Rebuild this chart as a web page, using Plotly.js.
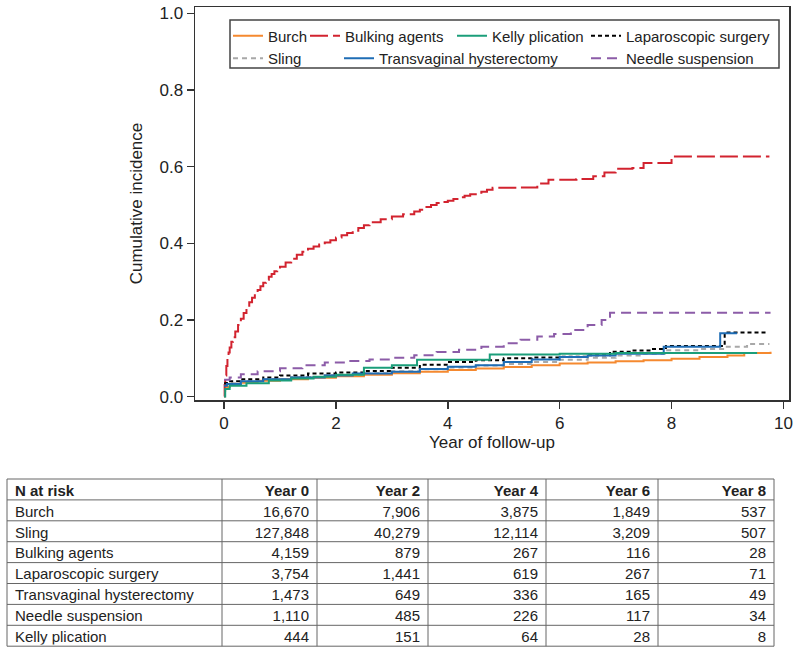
<!DOCTYPE html>
<html>
<head>
<meta charset="utf-8">
<script src="https://cdn.plot.ly/plotly-3.0.1.min.js"></script>
<style>html,body{margin:0;padding:0;background:#fff;}#chart{width:800px;height:653px;}</style>
</head>
<body>
<div id="chart"></div>
<script>
// ---------- Data ----------
const seriesNames = ["Burch", "Sling", "Bulking agents", "Laparoscopic surgery", "Transvaginal hysterectomy", "Needle suspension", "Kelly plication"];

const burchX = [0, 0.02, 0.1, 0.3, 0.6, 1.0, 1.5, 2.0, 2.5, 3.0, 3.5, 4.0, 4.5, 5.0, 5.5, 6.0, 6.5, 7.0, 7.5, 8.0, 8.5, 9.0, 9.3, 9.77];
const burchY = [0.015, 0.025, 0.03, 0.036, 0.041, 0.045, 0.049, 0.053, 0.057, 0.061, 0.065, 0.069, 0.073, 0.077, 0.082, 0.086, 0.089, 0.092, 0.095, 0.099, 0.103, 0.107, 0.114, 0.117];

const slingX = [0, 0.05, 0.3, 0.7, 1.2, 1.8, 2.5, 3.0, 3.5, 4.0, 4.5, 5.0, 5.5, 6.0, 6.5, 7.0, 7.5, 7.9, 8.5, 8.95, 9.35, 9.75];
const slingY = [0.03, 0.035, 0.04, 0.046, 0.051, 0.056, 0.061, 0.066, 0.071, 0.076, 0.081, 0.085, 0.09, 0.096, 0.101, 0.107, 0.112, 0.121, 0.124, 0.13, 0.137, 0.137];

const bulkingX = [0, 0.01, 0.02, 0.04, 0.06, 0.08, 0.1, 0.13, 0.16, 0.2, 0.25, 0.3, 0.35, 0.4, 0.45, 0.5, 0.55, 0.6, 0.65, 0.7, 0.75, 0.8, 0.85, 0.9, 0.95, 1.0, 1.1, 1.2, 1.3, 1.4, 1.5, 1.6, 1.7, 1.8, 1.9, 2.0, 2.1, 2.2, 2.3, 2.4, 2.5, 2.6, 2.8, 3.0, 3.2, 3.4, 3.5, 3.6, 3.7, 3.8, 3.9, 4.0, 4.1, 4.2, 4.3, 4.4, 4.5, 4.6, 4.7, 4.8, 5.3, 5.6, 5.8, 6.3, 6.6, 6.8, 7.0, 7.3, 7.5, 8.0, 9.75];
const bulkingY = [0.0, 0.03, 0.055, 0.08, 0.1, 0.115, 0.128, 0.143, 0.155, 0.17, 0.187, 0.203, 0.218, 0.232, 0.246, 0.258, 0.268, 0.278, 0.288, 0.297, 0.305, 0.313, 0.32, 0.327, 0.333, 0.339, 0.35, 0.36, 0.37, 0.378, 0.386, 0.392, 0.397, 0.402, 0.408, 0.415, 0.421, 0.427, 0.433, 0.44, 0.447, 0.455, 0.463, 0.47, 0.476, 0.483, 0.488, 0.495, 0.5, 0.505, 0.508, 0.511, 0.516, 0.52, 0.524, 0.528, 0.532, 0.535, 0.54, 0.545, 0.546, 0.556, 0.566, 0.568, 0.575, 0.585, 0.595, 0.597, 0.61, 0.627, 0.627];

const laparoX = [0, 0.05, 0.3, 0.7, 1.0, 1.5, 2.0, 2.5, 3.0, 3.5, 4.0, 4.5, 5.0, 5.5, 6.0, 6.5, 6.9, 7.3, 7.65, 7.9, 8.95, 9.7];
const laparoY = [0.035, 0.04, 0.045, 0.05, 0.055, 0.06, 0.063, 0.067, 0.075, 0.083, 0.09, 0.095, 0.1, 0.102, 0.104, 0.108, 0.117, 0.12, 0.124, 0.132, 0.167, 0.167];

const tvhX = [0, 0.05, 0.3, 0.7, 1.2, 1.8, 2.3, 3.0, 3.5, 4.0, 4.5, 5.0, 5.5, 6.0, 6.5, 7.0, 7.86, 8.87, 9.17];
const tvhY = [0.028, 0.033, 0.04, 0.045, 0.05, 0.055, 0.06, 0.065, 0.072, 0.078, 0.082, 0.09, 0.097, 0.103, 0.107, 0.112, 0.13, 0.165, 0.165];

const needleX = [0, 0.1, 0.3, 0.6, 1.0, 1.4, 1.8, 2.2, 2.6, 3.0, 3.4, 3.8, 4.2, 4.6, 5.0, 5.3, 5.6, 5.9, 6.2, 6.5, 6.75, 6.9, 9.77];
const needleY = [0.044, 0.05, 0.058, 0.066, 0.074, 0.082, 0.089, 0.093, 0.097, 0.101, 0.108, 0.116, 0.122, 0.13, 0.139, 0.148, 0.157, 0.163, 0.174, 0.187, 0.2, 0.219, 0.219];

const kellyX = [0, 0.02, 0.1, 0.4, 0.8, 1.2, 1.6, 2.0, 2.5, 3.0, 3.45, 4.75, 6.0, 7.0, 9.53];
const kellyY = [0.0, 0.02, 0.028, 0.035, 0.042, 0.047, 0.052, 0.057, 0.075, 0.082, 0.096, 0.11, 0.112, 0.114, 0.114];

// N at risk table
const tableHeader = ["N at risk", "Year 0", "Year 2", "Year 4", "Year 6", "Year 8"];
const riskGroups = ["Burch", "Sling", "Bulking agents", "Laparoscopic surgery", "Transvaginal hysterectomy", "Needle suspension", "Kelly plication"];
const riskYear0 = [16670, 127848, 4159, 3754, 1473, 1110, 444];
const riskYear2 = [7906, 40279, 879, 1441, 649, 485, 151];
const riskYear4 = [3875, 12114, 267, 619, 336, 226, 64];
const riskYear6 = [1849, 3209, 116, 267, 165, 117, 28];
const riskYear8 = [537, 507, 28, 71, 49, 34, 8];

// ---------- Styling ----------
const FONT = "Liberation Sans, Arial, sans-serif";
const TXT = "#222222";
const W = 800, H = 653;
const px = v => v / W;
const py = v => 1 - v / H;

function km(x, y, name, color, dash, legend) {
  return {
    type: "scatter", mode: "lines", x: x, y: y, name: name,
    line: {shape: "hv", color: color, width: 2, dash: dash},
    legend: legend, hoverinfo: "skip"
  };
}

const traces = [
  km(burchX, burchY, "Burch", "#F5892F", "solid", "legend"),
  km(slingX, slingY, "Sling", "#A8A8A8", "5px,4px", "legend"),
  km(bulkingX, bulkingY, "Bulking agents", "#D2232F", "18px,5px", "legend2"),
  km(laparoX, laparoY, "Laparoscopic surgery", "#000000", "4px,3px", "legend5"),
  km(tvhX, tvhY, "Transvaginal hysterectomy", "#1F6DB5", "solid", "legend3"),
  km(needleX, needleY, "Needle suspension", "#8C5CA8", "10px,6px", "legend5"),
  km(kellyX, kellyY, "Kelly plication", "#1B9E7A", "solid", "legend4")
];

// Table geometry (pixels)
const tblLeft = 7, tblTop = 479, rowH = 20.9;
const colW = [215, 95, 111, 118, 112, 116];
const nRows = riskGroups.length + 1;
const tblRight = tblLeft + colW.reduce((a, b) => a + b, 0);
const tblBottom = tblTop + nRows * rowH;
const textLift = 2.5;

const fmt = v => v.toLocaleString("en-US");
const bodyFont = {family: FONT, size: 15, color: TXT};
const headFont = {family: FONT, size: 15, color: TXT, weight: "bold"};

traces.push({
  type: "table",
  domain: {x: [px(tblLeft), px(tblRight)], y: [py(tblBottom - textLift + 1), py(tblTop - textLift)]},
  columnwidth: colW,
  header: {
    values: tableHeader,
    align: ["left", "right", "right", "right", "right", "right"],
    font: headFont,
    height: rowH,
    line: {color: "rgba(0,0,0,0)", width: 0},
    fill: {color: "rgba(0,0,0,0)"}
  },
  cells: {
    values: [riskGroups, riskYear0.map(fmt), riskYear2.map(fmt), riskYear4.map(fmt), riskYear6.map(fmt), riskYear8.map(fmt)],
    align: ["left", "right", "right", "right", "right", "right"],
    font: bodyFont,
    height: rowH,
    line: {color: "rgba(0,0,0,0)", width: 0},
    fill: {color: "rgba(0,0,0,0)"}
  }
});

// grid lines of the table
const gridShapes = [];
const gridLine = {color: "#666666", width: 1};
for (let i = 0; i <= nRows; i++) {
  const yy = tblTop + i * rowH;
  gridShapes.push({type: "line", xref: "paper", yref: "paper", x0: px(tblLeft), x1: px(tblRight), y0: py(yy), y1: py(yy), line: gridLine});
}
let cx = tblLeft;
for (let j = 0; j <= colW.length; j++) {
  gridShapes.push({type: "line", xref: "paper", yref: "paper", x0: px(cx), x1: px(cx), y0: py(tblTop), y1: py(tblBottom), line: gridLine});
  if (j < colW.length) cx += colW[j];
}

function leg(xp, yp) {
  return {
    x: px(xp), y: py(yp), xanchor: "left", yanchor: "top",
    orientation: "v", bgcolor: "rgba(0,0,0,0)", borderwidth: 0,
    font: {family: FONT, size: 15, color: TXT}, tracegroupgap: 0,
    itemwidth: 30, traceorder: "normal"
  };
}

const layout = {
  width: W, height: H,
  margin: {l: 0, r: 0, t: 0, b: 0},
  paper_bgcolor: "#ffffff", plot_bgcolor: "#ffffff",
  font: {family: FONT, size: 17, color: TXT},
  showlegend: true,
  legend: leg(228, 19.5),
  legend2: leg(305, 19.5),
  legend3: leg(339, 42),
  legend4: leg(452, 19.5),
  legend5: leg(586, 19.5),
  xaxis: {
    domain: [px(195), px(789)],
    range: [-0.52, 10.1],
    tickvals: [0, 2, 4, 6, 8, 10],
    ticks: "outside", ticklen: 7, tickwidth: 1.5, tickcolor: "#333",
    showline: true, linecolor: "#333", linewidth: 1.5, mirror: true,
    showgrid: false, zeroline: false,
    tickfont: {family: FONT, size: 17, color: TXT},
    title: {text: "Year of follow-up", font: {family: FONT, size: 17, color: TXT}, standoff: 1}
  },
  yaxis: {
    domain: [py(400), py(7)],
    range: [-0.009, 1.017],
    tickvals: [0, 0.2, 0.4, 0.6, 0.8, 1.0],
    tickformat: ".1f",
    ticks: "outside", ticklen: 7, tickwidth: 1.5, tickcolor: "#333",
    showline: true, linecolor: "#333", linewidth: 1.5, mirror: true,
    showgrid: false, zeroline: false,
    tickfont: {family: FONT, size: 17, color: TXT},
    title: {text: "Cumulative incidence", font: {family: FONT, size: 17, color: TXT}, standoff: 12}
  },
  shapes: [{
    type: "rect", xref: "paper", yref: "paper",
    x0: px(230), x1: px(779), y0: py(68), y1: py(20),
    line: {color: "#444", width: 1.5}, fillcolor: "rgba(0,0,0,0)"
  }].concat(gridShapes)
};

Plotly.newPlot("chart", traces, layout, {displayModeBar: false, staticPlot: true});
</script>
</body>
</html>
